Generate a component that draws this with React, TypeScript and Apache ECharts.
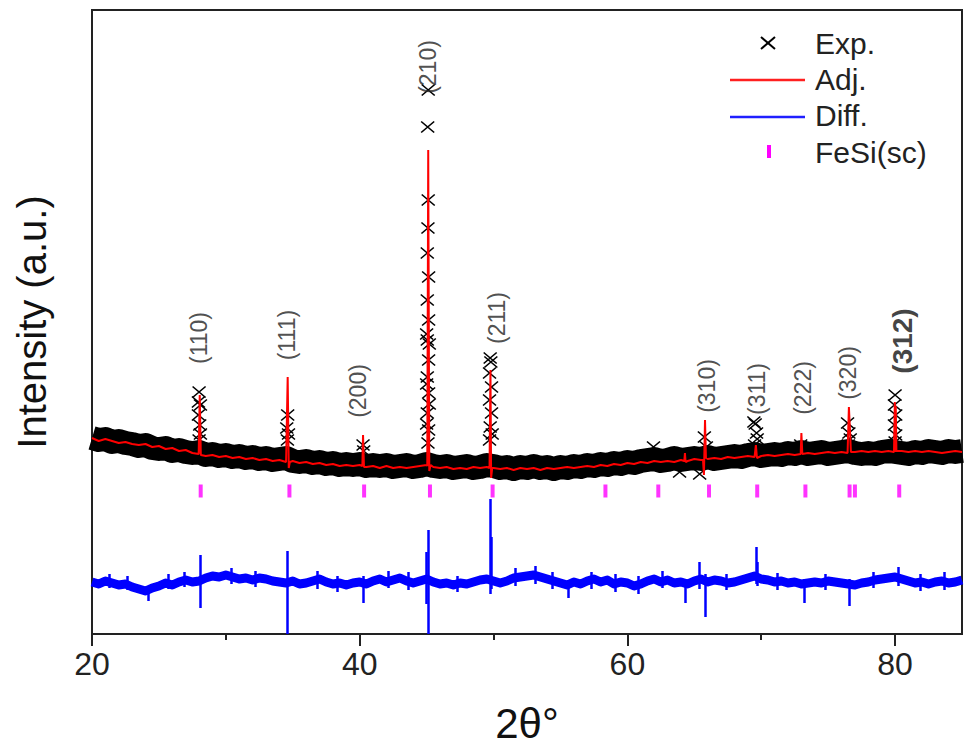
import React, { useEffect, useRef } from 'react';
import * as echarts from 'echarts';

const FONT = "'Liberation Sans', Arial, Helvetica, sans-serif";

// sampling of the background profiles (2θ in degrees)
const THETA_START = 20;
const THETA_STEP = 0.5;

// Experimental pattern: background band (a.u.), 20°..85° every 0.5°
const expBand = [
  196, 194, 195, 192, 193, 191, 190, 188, 189, 186,
  185, 186, 183, 184, 182, 181, 182, 179, 180, 178,
  179, 177, 178, 176, 177, 175, 176, 174, 175, 176,
  173, 172, 173, 171, 172, 170, 171, 169, 170, 169,
  170, 168, 169, 168, 169, 167, 168, 169, 167, 168,
  170, 168, 167, 168, 166, 167, 168, 166, 167, 169,
  168, 166, 167, 165, 167, 166, 168, 166, 167, 165,
  167, 166, 168, 167, 169, 168, 170, 169, 171, 170,
  172, 171, 173, 174, 175, 173, 174, 176, 174, 175,
  176, 175, 177, 175, 176, 177, 178, 177, 179, 180,
  178, 179, 180, 179, 181, 180, 182, 180, 181, 182,
  180, 181, 182, 183, 181, 180, 181, 180, 182, 183,
  182, 181, 180, 182, 181, 183, 182, 181, 183, 182,
  183,
];

// Experimental points at the reflections [2θ, intensity]
const expPeaks: [number, number][] = [
  [28.0, 242], [27.95, 232], [28.1, 229], [27.95, 219], [28.05, 209], [28.1, 200], [28.0, 194],
  [34.62, 219], [34.55, 206], [34.68, 200], [34.6, 194],
  [40.25, 189], [40.3, 183],
  [45.12, 544], [45.08, 507], [45.12, 434], [45.1, 406], [45.05, 381], [45.15, 357],
  [45.05, 334], [45.15, 314], [45.05, 294], [45.15, 274], [45.05, 257], [45.15, 241],
  [45.05, 221], [45.15, 204], [45.1, 191], [45.0, 300], [45.2, 290], [45.0, 250],
  [45.2, 230], [45.0, 210],
  [49.75, 276], [49.8, 272], [49.7, 261], [49.85, 247], [49.7, 234], [49.85, 221],
  [49.75, 207], [49.9, 200], [49.7, 194],
  [61.95, 187], [63.9, 162], [65.4, 160],
  [65.75, 197], [65.9, 187],
  [69.45, 212], [69.55, 210], [69.65, 201], [69.5, 189], [69.7, 195],
  [72.95, 189],
  [76.45, 211], [76.55, 201], [76.5, 189], [76.65, 195],
  [80.0, 239], [79.95, 229], [80.05, 219], [79.95, 209], [80.05, 199], [80.0, 192],
];

// Calculated (adjusted) profile background, 20°..85° every 0.5°
const adjBase = [
  196, 193, 195, 193, 191, 192, 190, 189, 190, 187,
  188, 185, 186, 183, 184, 181, 180, 178, 179, 177,
  178, 176, 177, 175, 176, 174, 175, 173, 174, 172,
  173, 171, 172, 170, 171, 169, 170, 168, 169, 168,
  169, 167, 168, 166, 168, 166, 167, 166, 167, 168,
  169, 167, 166, 167, 165, 166, 165, 167, 166, 167,
  166, 165, 166, 164, 166, 165, 166, 164, 166, 165,
  166, 167, 166, 167, 168, 167, 169, 168, 170, 169,
  171, 170, 172, 171, 173, 172, 173, 172, 174, 173,
  175, 174, 175, 176, 175, 177, 176, 177, 178, 177,
  178, 179, 178, 179, 180, 179, 180, 181, 180, 181,
  182, 181, 182, 181, 182, 183, 182, 183, 182, 183,
  182, 183, 182, 183, 182, 183, 182, 181, 182, 183,
  182,
];

// Calculated profile at the reflections [2θ, intensity]
const adjPeaks: [number, number][] = [
  [27.97, 180], [28.05, 239], [28.13, 179],
  [34.55, 172], [34.62, 257], [34.7, 166], [34.78, 172],
  [40.2, 168], [40.25, 199], [40.32, 167],
  [45.05, 168], [45.12, 484], [45.2, 163], [45.3, 169],
  [49.7, 166], [49.77, 264], [49.82, 156], [49.9, 166],
  [64.25, 173], [64.3, 181], [64.35, 172],
  [65.65, 174], [65.72, 159], [65.8, 214], [65.87, 176],
  [69.5, 177], [69.6, 189], [69.68, 176],
  [72.95, 180], [73.0, 201], [73.07, 180],
  [76.45, 181], [76.55, 227], [76.62, 207], [76.7, 182],
  [79.92, 182], [79.98, 232], [80.05, 228], [80.1, 183],
];

// Difference curve background, 20°..85° every 0.5°
const diffBase = [
  52, 50, 53, 51, 49, 50, 47, 45, 43, 46,
  48, 51, 49, 52, 54, 52, 53, 56, 58, 57,
  59, 57, 55, 56, 54, 56, 55, 53, 52, 51,
  53, 50, 51, 53, 55, 52, 50, 51, 49, 51,
  52, 50, 53, 55, 52, 54, 56, 53, 51, 53,
  55, 52, 50, 51, 49, 51, 50, 52, 54, 55,
  53, 51, 53, 56, 57, 58, 59, 57, 55, 53,
  51, 49, 52, 50, 53, 55, 52, 54, 50, 52,
  51, 48, 50, 53, 55, 52, 54, 51, 52, 50,
  53, 55, 52, 54, 53, 51, 52, 54, 56, 58,
  55, 54, 52, 53, 51, 52, 50, 51, 52, 51,
  53, 52, 51, 50, 49, 51, 52, 54, 55, 56,
  57, 55, 53, 51, 52, 50, 52, 53, 51, 52,
  54,
];

// Difference spikes [2θ, top, bottom]
const diffSpikes: [number, number, number][] = [
  [21.3, 60, 46], [22.6, 58, 44], [24.2, 48, 33], [25.7, 60, 45], [26.9, 62, 47],
  [28.1, 79, 26], [30.4, 66, 50], [32.2, 63, 47], [34.62, 83, 0], [36.8, 63, 45],
  [38.3, 58, 42], [40.3, 58, 31], [42.1, 63, 46], [43.6, 62, 44],
  [45.0, 82, 30], [45.12, 104, 0], [47.3, 58, 42], [49.72, 135, 40], [49.8, 97, 45],
  [51.6, 66, 48], [53.1, 68, 50], [54.4, 62, 45], [55.6, 52, 36], [57.3, 62, 45],
  [59.1, 60, 42], [60.8, 58, 40], [62.6, 63, 46], [64.3, 55, 31], [65.4, 72, 45],
  [65.8, 60, 17], [67.4, 60, 44], [69.6, 87, 50], [69.7, 72, 48], [71.2, 61, 44],
  [73.2, 55, 31], [74.8, 60, 44], [76.6, 55, 28], [78.4, 62, 46], [80.2, 67, 48],
  [81.9, 60, 43], [83.7, 62, 44],
];

// FeSi (simple cubic) reference reflections
const fesiTheta = [28.12, 34.75, 40.33, 45.25, 49.93, 58.36, 62.31, 66.1, 69.7, 73.3, 76.6, 77.0, 80.31];
const FESI_LEVEL = 143;

// Miller index labels
const peakNames = ['(110)', '(111)', '(200)', '(210)', '(211)', '(310)', '(311)', '(222)', '(320)', '(312)'];
const peakNameX = [28.0, 34.55, 39.85, 45.1, 50.25, 65.97, 69.7, 73.15, 76.5, 80.54];
const peakNameY = [296, 299, 243, 567, 316, 248, 245, 246, 261, 293];

const xTicks = [20, 40, 60, 80];

export default function App() {
  const ref = useRef<HTMLDivElement>(null);

  useEffect(() => {
    if (!ref.current) return;
    const chart = echarts.init(ref.current, null, { renderer: 'svg' });

    const theta = expBand.map((_, i) => THETA_START + i * THETA_STEP);
    const bandData = expBand.map((v, i) => [theta[i], v]);
    const adjData = [...adjBase.map((v, i) => [theta[i], v]), ...adjPeaks].sort((a, b) => a[0] - b[0]);
    const diffData = diffBase.map((v, i) => [theta[i], v]);

    const crossPath = 'path://M0,0L10,10M10,0L0,10';

    chart.setOption({
      animation: false,
      backgroundColor: '#fff',
      textStyle: { fontFamily: FONT },
      grid: {
        left: 92, right: 2, top: 10, bottom: 117,
        outerBoundsMode: 'none',
        containLabel: false,
        show: true, borderColor: '#222', borderWidth: 2, backgroundColor: 'transparent',
      },
      xAxis: {
        type: 'value', min: 20, max: 85, interval: 20,
        axisLine: { show: true, lineStyle: { color: '#222', width: 2 } },
        axisTick: { show: true, length: 12, lineStyle: { color: '#222', width: 2 }, customValues: xTicks },
        minorTick: { show: true, splitNumber: 2, length: 6, lineStyle: { color: '#222', width: 2 } },
        axisLabel: { fontSize: 32, color: '#222', margin: 14, fontFamily: FONT, customValues: xTicks },
        splitLine: { show: false },
        name: '2θ°',
        nameLocation: 'middle',
        nameGap: 68,
        nameTextStyle: { fontSize: 42, color: '#111', fontFamily: FONT },
      },
      yAxis: {
        type: 'value', min: 0, max: 624,
        axisLine: { show: true, lineStyle: { color: '#222', width: 2 } },
        axisTick: { show: false },
        axisLabel: { show: false },
        splitLine: { show: false },
        name: 'Intensity (a.u.)',
        nameLocation: 'middle',
        nameGap: 40,
        nameTextStyle: { fontSize: 40, color: '#111', fontFamily: FONT },
      },
      series: [
        {
          name: 'ExpBand', type: 'line', data: bandData, symbol: 'none', silent: true, z: 1,
          lineStyle: { color: '#000', width: 24, join: 'round', cap: 'butt' },
        },
        {
          name: 'Exp.', type: 'scatter', data: expPeaks, symbol: crossPath, symbolSize: [13, 11], z: 2,
          itemStyle: { color: 'rgba(0,0,0,0)', borderColor: '#000', borderWidth: 1.4, opacity: 1 },
        },
        {
          name: 'Adj.', type: 'line', data: adjData, symbol: 'none', z: 3,
          lineStyle: { color: '#ff0000', width: 2 },
        },
        {
          name: 'Diff.', type: 'line', data: diffData, symbol: 'none', z: 3,
          lineStyle: { color: '#0000ff', width: 9, join: 'round' },
        },
        {
          name: 'DiffSpikes', type: 'lines', coordinateSystem: 'cartesian2d', z: 3,
          data: diffSpikes.map(([x, t, b]) => ({ coords: [[x, t], [x, b]] })),
          lineStyle: { color: '#0000ff', width: 2.5, opacity: 1 },
        },
        {
          name: 'FeSi(sc)', type: 'scatter', symbol: 'rect', symbolSize: [4, 13], z: 3,
          data: fesiTheta.map((t) => [t, FESI_LEVEL]),
          itemStyle: { color: '#ff00ff' },
        },
        {
          name: 'hkl', type: 'scatter', symbolSize: 1, z: 5, silent: true,
          itemStyle: { color: 'rgba(0,0,0,0)' },
          data: peakNames.map((n, i) => ({
            name: n,
            value: [peakNameX[i], peakNameY[i]],
            label: n === '(312)' ? { fontSize: 28, fontWeight: 'bold', color: '#111' } : undefined,
          })),
          label: {
            show: true, position: 'inside', rotate: 90, formatter: '{b}',
            fontSize: 23, color: '#222', fontFamily: FONT, align: 'center', verticalAlign: 'middle',
          },
        },
      ],
      graphic: [
        { type: 'line', shape: { x1: 761, y1: 37, x2: 775, y2: 49 }, style: { stroke: '#000', lineWidth: 2 } },
        { type: 'line', shape: { x1: 775, y1: 37, x2: 761, y2: 49 }, style: { stroke: '#000', lineWidth: 2 } },
        { type: 'text', x: 815, y: 43, style: { text: 'Exp.', fontSize: 30, fill: '#222', fontFamily: FONT, verticalAlign: 'middle' } },
        { type: 'line', shape: { x1: 730, y1: 80, x2: 805, y2: 80 }, style: { stroke: '#ff2020', lineWidth: 2.5 } },
        { type: 'text', x: 815, y: 79, style: { text: 'Adj.', fontSize: 30, fill: '#222', fontFamily: FONT, verticalAlign: 'middle' } },
        { type: 'line', shape: { x1: 730, y1: 117, x2: 805, y2: 117 }, style: { stroke: '#2020ff', lineWidth: 2.5 } },
        { type: 'text', x: 815, y: 115, style: { text: 'Diff.', fontSize: 30, fill: '#222', fontFamily: FONT, verticalAlign: 'middle' } },
        { type: 'rect', shape: { x: 767, y: 145, width: 4, height: 13 }, style: { fill: '#ff00ff' } },
        { type: 'text', x: 815, y: 152, style: { text: 'FeSi(sc)', fontSize: 30, fill: '#222', fontFamily: FONT, verticalAlign: 'middle' } },
      ],
    });

    return () => chart.dispose();
  }, []);

  return (
    <div
      ref={ref}
      style={{ position: 'fixed', left: 0, top: 0, width: 964, height: 751, background: '#fff' }}
    />
  );
}
